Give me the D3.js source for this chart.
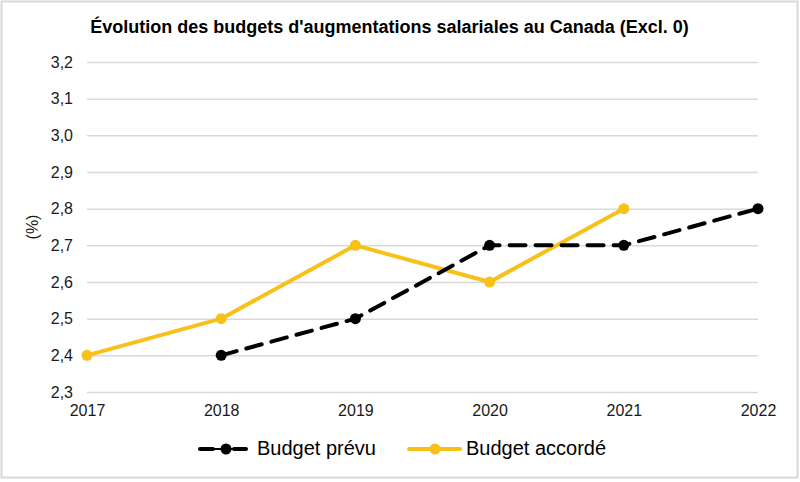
<!DOCTYPE html>
<html><head><meta charset="utf-8">
<script src="https://cdn.jsdelivr.net/npm/d3@7"></script>
<style>body{margin:0;background:#fff;}svg{display:block;font-family:"Liberation Sans",Arial,sans-serif;}</style>
</head><body>
<svg id="c" width="800" height="482"></svg>
<script>
const title = "Évolution des budgets d'augmentations salariales au Canada (Excl. 0)";
const years = [2017, 2018, 2019, 2020, 2021, 2022];
const yTicks = [2.3, 2.4, 2.5, 2.6, 2.7, 2.8, 2.9, 3.0, 3.1, 3.2];
const prevuYears = [2018, 2019, 2020, 2021, 2022];
const prevuValues = [2.4, 2.5, 2.7, 2.7, 2.8];
const accordeYears = [2017, 2018, 2019, 2020, 2021];
const accordeValues = [2.4, 2.5, 2.7, 2.6, 2.8];
const seriesNames = ["Budget prévu", "Budget accordé"];

const FF = "Liberation Sans, Arial, sans-serif";
const svg = d3.select("#c");
svg.append("rect").attr("x",1.5).attr("y",1.5).attr("width",796).attr("height",476)
  .attr("fill","#fff").attr("stroke","#d9d9d9").attr("stroke-width",2);

const x = d3.scaleLinear().domain([2017, 2022]).range([87, 758]);
const y = d3.scaleLinear().domain([2.3, 3.2]).range([392, 62]);
const fmt = d => d3.format(".1f")(d).replace(".", ",");

svg.append("text").attr("x", 389.5).attr("y", 33).attr("text-anchor","middle")
  .attr("font-weight","bold").attr("font-size",18).attr("fill","#000").attr("font-family",FF).text(title);

// grid
const yAxis = d3.axisLeft(y).tickValues(yTicks).tickSize(-(758-87)).tickPadding(14).tickFormat(fmt);
const gy = svg.append("g").attr("transform","translate(87,0)").call(yAxis);
gy.select(".domain").remove();
gy.selectAll(".tick line").attr("stroke","#d9d9d9").attr("stroke-width",1.5);
gy.selectAll(".tick text").attr("font-size",16).attr("fill","#1a1a1a").attr("font-family",FF);

const xAxis = d3.axisBottom(x).tickValues(years).tickSize(0).tickPadding(13).tickFormat(d3.format("d"));
const gx = svg.append("g").attr("transform","translate(0,392)").call(xAxis);
gx.select(".domain").remove();
gx.selectAll(".tick text").attr("font-size",16).attr("fill","#1a1a1a").attr("font-family",FF);

svg.append("text").attr("transform","translate(38,227) rotate(-90)").attr("text-anchor","middle")
  .attr("font-size",16).attr("fill","#1a1a1a").attr("font-family",FF).text("(%)");

const prevu = prevuYears.map((d,i)=>({x:d,y:prevuValues[i]}));
const accorde = accordeYears.map((d,i)=>({x:d,y:accordeValues[i]}));
const line = d3.line().x(d=>x(d.x)).y(d=>y(d.y));
const yellow = "#F7C11A";

svg.append("path").datum(accorde).attr("d",line).attr("fill","none").attr("stroke",yellow).attr("stroke-width",4).attr("stroke-linejoin","round");
svg.selectAll(".pa").data(accorde).enter().append("circle").attr("cx",d=>x(d.x)).attr("cy",d=>y(d.y)).attr("r",5.5).attr("fill",yellow);

svg.append("path").datum(prevu).attr("d",line).attr("fill","none").attr("stroke","#000").attr("stroke-width",4).attr("stroke-dasharray","16,10").attr("stroke-linecap","round");
svg.selectAll(".pp").data(prevu).enter().append("circle").attr("cx",d=>x(d.x)).attr("cy",d=>y(d.y)).attr("r",5.5).attr("fill","#000");

// legend
const LY = 449;
const leg = [{name:seriesNames[0], color:"#000", dash:true, x0:198},{name:seriesNames[1], color:yellow, dash:false, x0:407}];
leg.forEach(l=>{
  const g = svg.append("g");
  if (l.dash) {
    g.append("line").attr("x1",l.x0+2).attr("x2",l.x0+15).attr("y1",LY).attr("y2",LY).attr("stroke",l.color).attr("stroke-width",4).attr("stroke-linecap","round");
    g.append("line").attr("x1",l.x0+36).attr("x2",l.x0+48).attr("y1",LY).attr("y2",LY).attr("stroke",l.color).attr("stroke-width",4).attr("stroke-linecap","round");
    g.append("line").attr("x1",l.x0+15).attr("x2",l.x0+36).attr("y1",LY).attr("y2",LY).attr("stroke",l.color).attr("stroke-width",2);
    g.append("circle").attr("cx",l.x0+28).attr("cy",LY).attr("r",5.5).attr("fill",l.color);
    g.append("text").attr("x",l.x0+59).attr("y",LY+6).attr("font-size",20).attr("fill","#000").attr("font-family",FF).text(l.name);
  } else {
    g.append("line").attr("x1",l.x0+2).attr("x2",l.x0+53).attr("y1",LY).attr("y2",LY).attr("stroke",l.color).attr("stroke-width",4).attr("stroke-linecap","round");
    g.append("circle").attr("cx",l.x0+28).attr("cy",LY).attr("r",5.5).attr("fill",l.color);
    g.append("text").attr("x",l.x0+59).attr("y",LY+6).attr("font-size",20).attr("fill","#000").attr("font-family",FF).text(l.name);
  }
});
</script>
</body></html>
